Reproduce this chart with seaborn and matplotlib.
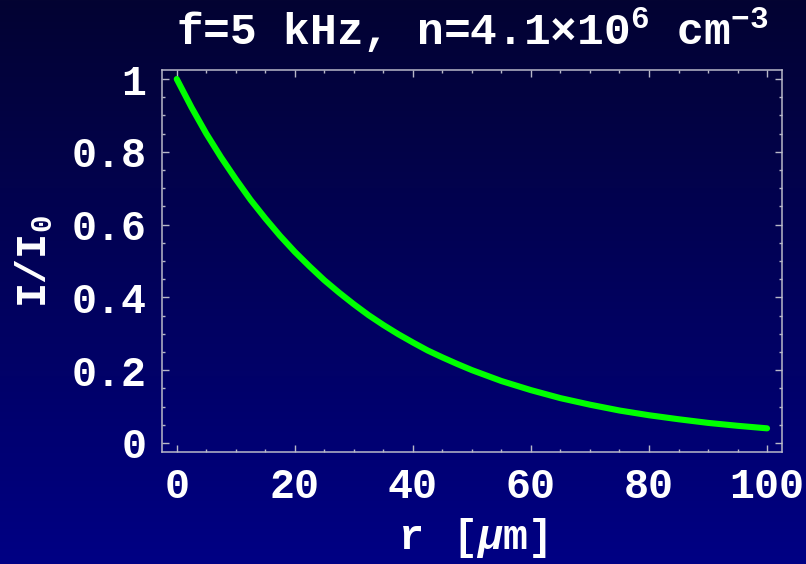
import numpy as np
import seaborn as sns
import matplotlib.pyplot as plt
from matplotlib.colors import LinearSegmentedColormap

# values
r_um = [0, 2.5, 5, 7.5, 10, 12.5, 15, 17.5, 20, 22.5, 25, 27.5, 30, 32.5, 35, 37.5,
        40, 42.5, 45, 47.5, 50, 55, 60, 65, 70, 75, 80, 85, 90, 95, 100]
intensity = [1.000, 0.922, 0.850, 0.785, 0.725, 0.668, 0.617, 0.569, 0.525, 0.485,
             0.447, 0.413, 0.381, 0.351, 0.324, 0.299, 0.276, 0.254, 0.235, 0.217,
             0.200, 0.170, 0.145, 0.123, 0.105, 0.089, 0.076, 0.065, 0.055, 0.047, 0.040]

x_ticks = [0, 20, 40, 60, 80, 100]
x_labels = ['0', '20', '40', '60', '80', '100']
y_ticks = [0, 0.2, 0.4, 0.6, 0.8, 1]
y_labels = ['0', '0.2', '0.4', '0.6', '0.8', '1']

sns.set_style('ticks')
plt.rcParams['font.family'] = ['Liberation Mono', 'DejaVu Sans']
plt.rcParams['font.weight'] = 'bold'
plt.rcParams['mathtext.fontset'] = 'custom'
plt.rcParams['mathtext.rm'] = 'Liberation Mono:bold'
plt.rcParams['mathtext.it'] = 'Liberation Mono:italic:bold'
plt.rcParams['mathtext.bf'] = 'Liberation Mono:bold'

fig = plt.figure(figsize=(8.06, 5.64), dpi=100)

# gradient background over the whole figure
bg = fig.add_axes([0, 0, 1, 1], zorder=-10)
cmap = LinearSegmentedColormap.from_list('navy', [(3/255, 3/255, 50/255), (0, 0, 132/255)])
bg.imshow(np.linspace(0, 1, 256).reshape(-1, 1), aspect='auto', cmap=cmap,
          extent=[0, 1, 0, 1], origin='upper')
bg.axis('off')

ax = fig.add_axes([0.201, 0.1986, 0.769, 0.6774])
ax.patch.set_alpha(0)

sns.lineplot(x=r_um, y=intensity, ax=ax, color='#00ff00', linewidth=4.4,
             solid_capstyle='round', solid_joinstyle='round')

ax.set_xlim(-2.5, 102.5)
ax.set_ylim(-0.025, 1.025)
ax.set_xticks(x_ticks)
ax.set_xticklabels(x_labels)
ax.set_yticks(y_ticks)
ax.set_yticklabels(y_labels)
ax.set_xticks(np.arange(0, 101, 5), minor=True)
ax.set_yticks(np.arange(0, 1.001, 0.05), minor=True)

frame_col = '#b8b8c8'
for side in ax.spines.values():
    side.set_color(frame_col)
    side.set_linewidth(1.1)

ax.tick_params(which='both', direction='in', top=True, right=True, color=frame_col, width=1)
ax.tick_params(which='major', length=5, labelsize=30, labelcolor='white', pad=11)
ax.tick_params(which='minor', length=2.5)

ax.set_xlabel(r'r$\,$ [$\mu$m]', fontsize=30, color='white', fontweight='bold', labelpad=6)
ax.set_ylabel(r'I/I$_{0}$', fontsize=30, color='white', fontweight='bold', labelpad=12)
ax.set_title(r'f=5 kHz, n=4.1×10$^{6}$ cm$^{-3}$', fontsize=32, color='white',
             fontweight='bold', pad=18)

fig.savefig('out.png', dpi=100)
